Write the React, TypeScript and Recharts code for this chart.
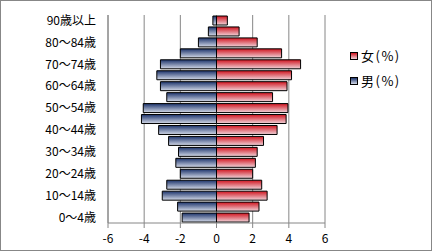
import { BarChart, Bar, XAxis, YAxis, CartesianGrid } from "recharts";

const ageGroups = [
  "0～4歳", "5～9歳", "10～14歳", "15～19歳", "20～24歳", "25～29歳",
  "30～34歳", "35～39歳", "40～44歳", "45～49歳", "50～54歳", "55～59歳",
  "60～64歳", "65～69歳", "70～74歳", "75～79歳", "80～84歳", "85～89歳",
  "90歳以上",
];

const malePct = [
  1.9, 2.15, 3.0, 2.75, 2.0, 2.25, 2.1, 2.65, 3.2, 4.15,
  4.05, 2.75, 3.1, 3.3, 3.1, 2.0, 1.0, 0.45, 0.2,
];

const femalePct = [
  1.8, 2.35, 2.8, 2.5, 2.0, 2.15, 2.25, 2.6, 3.35, 3.85,
  3.95, 3.1, 3.9, 4.15, 4.65, 3.6, 2.25, 1.25, 0.6,
];

const xTicks = [-6, -4, -2, 0, 2, 4, 6];

const data = ageGroups.map((age, i) => ({
  age,
  male: -malePct[i],
  female: femalePct[i],
}));

const font = "'Noto Sans CJK JP', 'Noto Sans', sans-serif";

export default function App() {
  return (
    <div
      style={{
        position: "absolute",
        left: 0,
        top: 0,
        width: 432,
        height: 251,
        border: "1px solid #878787",
        boxSizing: "border-box",
        background: "#fff",
        fontFamily: font,
      }}
    >
      <BarChart
        width={430}
        height={249}
        data={data}
        layout="vertical"
        stackOffset="sign"
        barCategoryGap={1}
        margin={{ top: 14, right: 106, left: 0, bottom: 5 }}
      >
        <defs>
          <linearGradient id="gMale" x1="0" y1="0" x2="0" y2="1">
            <stop offset="0%" stopColor="#1c336b" />
            <stop offset="100%" stopColor="#d4dae8" />
          </linearGradient>
          <linearGradient id="gFemale" x1="0" y1="0" x2="0" y2="1">
            <stop offset="0%" stopColor="#d0141f" />
            <stop offset="100%" stopColor="#f0d4da" />
          </linearGradient>
        </defs>
        <CartesianGrid horizontal={false} stroke="#868686" />
        <XAxis
          type="number"
          domain={[-6, 6]}
          ticks={xTicks}
          interval={0}
          height={22}
          tick={{ fontSize: 12, fill: "#000", fontFamily: font }}
          tickLine={{ stroke: "#868686" }}
          tickSize={5}
          tickMargin={6}
          axisLine={{ stroke: "#868686" }}
        />
        <YAxis
          type="category"
          dataKey="age"
          reversed
          interval={1}
          width={107}
          tick={{ fontSize: 12, fill: "#000", fontFamily: font }}
          tickLine={false}
          tickSize={5}
          tickMargin={7}
          axisLine={{ stroke: "#868686" }}
        />
        <Bar
          dataKey="male"
          stackId="p"
          fill="url(#gMale)"
          stroke="#000"
          strokeWidth={1}
          isAnimationActive={false}
        />
        <Bar
          dataKey="female"
          stackId="p"
          fill="url(#gFemale)"
          stroke="#000"
          strokeWidth={1}
          isAnimationActive={false}
        />
      </BarChart>
      <div
        style={{
          position: "absolute",
          left: 349,
          top: 42,
          fontSize: 13,
          lineHeight: "25px",
          color: "#000",
        }}
      >
        <div style={{ display: "flex", alignItems: "center" }}>
          <span
            style={{
              width: 6,
              height: 6,
              border: "1px solid #000",
              background: "linear-gradient(#d0141f, #f0d4da)",
              marginRight: 3,
            }}
          />
          <span style={{ letterSpacing: 1.5 }}>女(%)</span>
        </div>
        <div style={{ display: "flex", alignItems: "center" }}>
          <span
            style={{
              width: 6,
              height: 6,
              border: "1px solid #000",
              background: "linear-gradient(#1c336b, #d4dae8)",
              marginRight: 3,
            }}
          />
          <span style={{ letterSpacing: 1.5 }}>男(%)</span>
        </div>
      </div>
    </div>
  );
}
